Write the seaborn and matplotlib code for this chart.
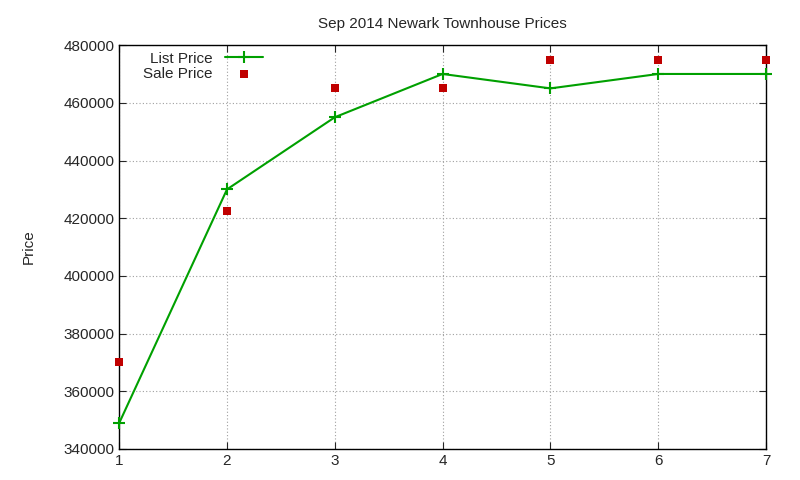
import matplotlib
matplotlib.use("Agg")
import matplotlib.pyplot as plt
import seaborn as sns
import pandas as pd

weeks = [1, 2, 3, 4, 5, 6, 7]
list_price = [349000, 430000, 455000, 470000, 465000, 470000, 470000]
sale_price = [370000, 422500, 465000, 465000, 475000, 475000, 475000]
yticks = [340000, 360000, 380000, 400000, 420000, 440000, 460000, 480000]

sns.set_style("ticks")
plt.rcParams['font.family'] = ['Liberation Sans', 'DejaVu Sans']

df = pd.DataFrame({"x": weeks, "list": list_price, "sale": sale_price})
fig = plt.figure(figsize=(8, 4.8), dpi=100)
ax = fig.add_axes([0.149, 0.0646, 0.8085, 0.8414])
sns.lineplot(data=df, x="x", y="list", ax=ax, color="#00a000", marker="+",
             markersize=8, markeredgewidth=1.5, markeredgecolor="#00a000",
             linewidth=1.5, label="List Price", clip_on=False, zorder=3)
sns.scatterplot(data=df, x="x", y="sale", ax=ax, color="#c00000", marker="s",
                s=40, linewidth=0, label="Sale Price", clip_on=False, zorder=4)
ax.set_xlim(1, 7)
ax.set_ylim(340000, 480000)
ax.set_xticks(weeks)
ax.set_yticks(yticks)
ax.set_yticklabels([str(v) for v in yticks])
ax.tick_params(labelsize=11, direction="in", length=5, top=True, right=True)
ax.grid(True, color="#a0a0a0", linestyle=(0, (1, 2)), linewidth=0.8)
for s in ax.spines.values():
    s.set_visible(True)
    s.set_color("black")
    s.set_linewidth(1)
ax.set_xlabel("")
ax.set_ylabel("Price", fontsize=11, labelpad=20)
ax.set_title("Sep 2014 Newark Townhouse Prices", fontsize=11, pad=12)
leg = ax.legend(loc="upper left", bbox_to_anchor=(0.02, 1.01), frameon=False,
                markerfirst=False, fontsize=11, handlelength=2.5,
                borderpad=0.2, labelspacing=0.05)
for t in leg.get_texts():
    t.set_ha("right")
leg._legend_box.align = "right"
fig.savefig("out.png", dpi=100)
